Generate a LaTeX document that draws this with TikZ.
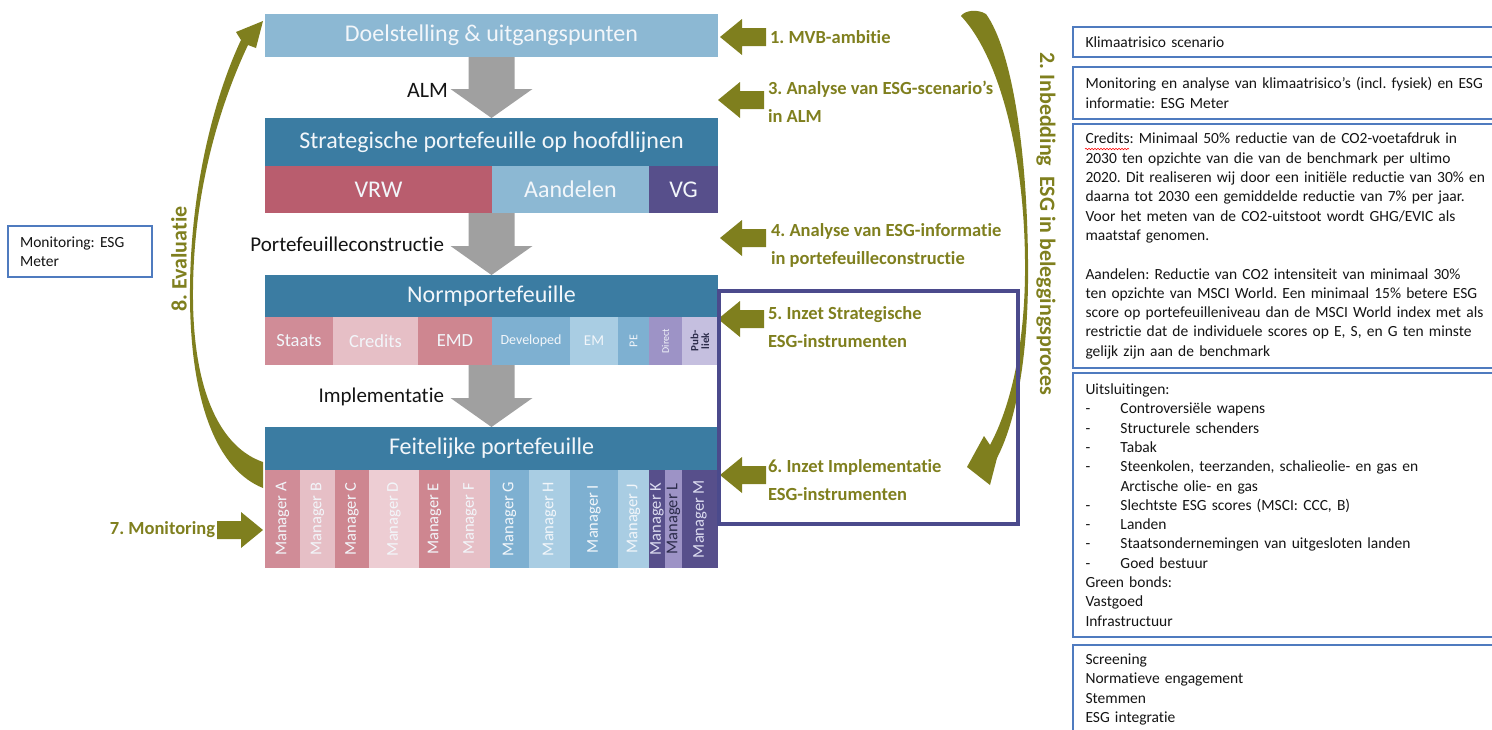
\documentclass[tikz,border=0pt]{standalone}
\usepackage{fontspec}
\setmainfont{Carlito}[Ligatures=NoCommon]
\frenchspacing
\usetikzlibrary{positioning,calc,decorations.pathmorphing}

\definecolor{lichtblauw}{HTML}{8CB8D3}
\definecolor{donkerblauw}{HTML}{3B7CA2}
\definecolor{rood}{HTML}{B95D6E}
\definecolor{paars}{HTML}{574F8B}
\definecolor{roze}{HTML}{D08C97}
\definecolor{roze2}{HTML}{CE8690}
\definecolor{lichtroze}{HTML}{E6BFC6}
\definecolor{lichtroze2}{HTML}{EDCDD3}
\definecolor{blauw}{HTML}{7EB0D1}
\definecolor{ijsblauw}{HTML}{A9CDE3}
\definecolor{lila}{HTML}{9D93C6}
\definecolor{lichtlila}{HTML}{C5BFDF}
\definecolor{olijf}{HTML}{7F7F1E}
\definecolor{grijs}{HTML}{A0A0A0}
\definecolor{kader}{HTML}{4B4A8C}
\definecolor{randblauw}{HTML}{4F7BBF}
\definecolor{wittekst}{HTML}{F2F6FA}
\definecolor{lichttekst}{HTML}{DCDCF0}
\definecolor{donker}{HTML}{2B2B4A}
\definecolor{zwart}{HTML}{141414}

\newcommand{\lettergrootte}[2]{\fontsize{#1}{#2}\selectfont}
% grijze blokpijl tussen twee lagen
\newcommand{\grijzepijl}[2]{%
  \fill[grijs] ($#1+(-23,0)$) -- ($#1+(23,0)$) -- ($#2+(23,-29)$) -- ($#2+(41,-29)$) -- #2
    -- ($#2+(-41,-29)$) -- ($#2+(-23,-29)$) -- cycle;}
% olijfgroene blokpijl, #2 = 1 (naar links) of -1 (naar rechts)
\newcommand{\olijfpijl}[2]{%
  \fill[olijf] #1 -- ++(#2*22,-18) -- ++(0,9) -- ++(#2*24,0) -- ++(0,18) -- ++(#2*-24,0) -- ++(0,9) -- cycle;}

\begin{document}
\begin{tikzpicture}[x=1pt,y=-1pt,
    every node/.style={inner sep=0pt,outer sep=0pt},
    kop/.style={anchor=north west,minimum width=453pt,text=wittekst,font=\lettergrootte{24}{28}},
    cel/.style={anchor=north west,text=wittekst},
    stap/.style={anchor=west,align=left,text=olijf,font=\bfseries\lettergrootte{18.5}{28}},
    fase/.style={anchor=east,text=zwart,font=\lettergrootte{21}{25}},
    tekstvak/.style={draw=randblauw,line width=1.3pt,anchor=north west,minimum width=430pt,
      text width=405pt,align=left,inner xsep=12pt,text=zwart,font=\lettergrootte{15.5}{19.3}}]

\useasboundingbox (0,0) rectangle (1492,729);
\clip (0,0) rectangle (1492,729);

% lagen
\node[kop,fill=lichtblauw,minimum height=43pt] (doel) at (265,14) {Doelstelling \& uitgangspunten};

\node[kop,fill=donkerblauw,minimum height=48pt] (strat) at (265,118) {Strategische portefeuille op hoofdlijnen};
\node[cel,fill=rood,minimum width=227pt,minimum height=47pt,font=\lettergrootte{24}{28}] (vrw) at (strat.south west) {VRW};
\node[cel,fill=lichtblauw,minimum width=157pt,minimum height=47pt,font=\lettergrootte{24}{28},right=0pt of vrw] (aand) {Aandelen};
\node[cel,fill=paars,minimum width=69pt,minimum height=47pt,font=\lettergrootte{24}{28},right=0pt of aand] (vg) {VG};

\node[kop,fill=donkerblauw,minimum height=42pt] (norm) at (265,275) {Normportefeuille};
\node[cel,fill=roze,minimum width=68pt,minimum height=48pt,font=\lettergrootte{18.5}{22}] (staats) at (norm.south west) {Staats};
\node[cel,fill=lichtroze,minimum width=85pt,minimum height=48pt,font=\lettergrootte{18.5}{22},right=0pt of staats] (credits) {Credits};
\node[cel,fill=roze2,minimum width=74pt,minimum height=48pt,font=\lettergrootte{18.5}{22},right=0pt of credits] (emd) {EMD};
\node[cel,fill=blauw,minimum width=78pt,minimum height=48pt,font=\lettergrootte{14}{16},right=0pt of emd] (dev) {Developed};
\node[cel,fill=ijsblauw,minimum width=48pt,minimum height=48pt,font=\lettergrootte{15}{17},right=0pt of dev] (em) {EM};
\node[cel,fill=blauw,minimum width=31pt,minimum height=48pt,font=\lettergrootte{12}{14},right=0pt of em] (pe) {\rotatebox{90}{PE}};
\node[cel,fill=lila,minimum width=33pt,minimum height=48pt,font=\lettergrootte{10}{12},right=0pt of pe] (direct) {\rotatebox{90}{Direct}};
\node[cel,fill=lichtlila,text=donker,minimum width=36pt,minimum height=48pt,font=\bfseries\lettergrootte{11}{11},right=0pt of direct] (publiek) {\rotatebox{90}{\shortstack{Pub-\\liek}}};

\node[kop,fill=donkerblauw,minimum height=43pt] (feit) at (265,427) {Feitelijke portefeuille};
\node[minimum size=0pt,anchor=north east] (mgr0) at (feit.south west) {};
\foreach \m/\br/\kl/\tk [count=\n,remember=\n as \p (initially 0)] in
  {A/35/roze/wittekst,B/35/lichtroze/wittekst,C/34/roze2/wittekst,D/50/lichtroze2/wittekst,
   E/31/roze2/wittekst,F/40/lichtroze/wittekst,G/39/blauw/wittekst,H/41/ijsblauw/wittekst,
   I/48/blauw/wittekst,J/31/ijsblauw/wittekst,K/16/paars/lichttekst,L/17/lila/donker,M/36/paars/lichttekst}
  \node[cel,fill=\kl,text=\tk,minimum width=\br pt,minimum height=98pt,font=\lettergrootte{16.5}{18}] (mgr\n) at (mgr\p.north east) {\rotatebox{90}{Manager \m}};

% grijze pijlen met fasen
\grijzepijl{(doel.south)}{(strat.north)}
\grijzepijl{(strat.south |- vrw.south)}{(norm.north)}
\grijzepijl{(norm.south |- staats.south)}{(feit.north)}
\node[fase,font=\lettergrootte{22}{26}] (alm) at (448,90) {ALM};
\node[fase] (pc) at (444,244) {Portefeuilleconstructie};
\node[fase] (impl) at (444,397) {Implementatie};

% ESG-stappen
\node[stap] (s1) at (770,37) {1. MVB-ambitie};
\node[stap] (s3) at (768,102) {3. Analyse van ESG-scenario’s\\in ALM};
\node[stap] (s4) at (771,245) {4. Analyse van ESG-informatie\\in portefeuilleconstructie};
\node[stap] (s5) at (768,327) {5. Inzet Strategische\\ESG-instrumenten};
\node[stap] (s6) at (768,480) {6. Inzet Implementatie\\ESG-instrumenten};
\node[stap,anchor=east] (s7) at (215,530) {7. Monitoring};
\node[stap,anchor=center,rotate=-90,font=\bfseries\lettergrootte{22}{26}] (s2) at (1046,224) {2. Inbedding\ \ ESG in beleggingsproces};
\node[stap,anchor=center,rotate=90,font=\bfseries\lettergrootte{22}{26}] (s8) at (179,259) {8. Evaluatie};

\olijfpijl{($(doel.east |- s1.west)+(2,0)$)}{1}
\olijfpijl{($(strat.east |- s3.west)+(0,-2)$)}{1}
\olijfpijl{($(strat.east |- s4.west)+(2,-7)$)}{1}
\olijfpijl{($(norm.east |- s5.west)+(0,-8)$)}{1}
\olijfpijl{($(feit.east |- s6.west)+(2,-5)$)}{1}
\olijfpijl{($(mgr1.west |- s7.east)+(-2,0)$)}{-1}

% gebogen pijlen
\fill[olijf] (961,16) .. controls (998,55) and (1024,150) .. (1025,260)
  .. controls (1026,345) and (1010,408) .. (990,445) -- (984,436) -- (967,467) -- (990,485) -- (997,458)
  .. controls (1019,415) and (1029,345) .. (1028,260) .. controls (1027,150) and (1012,50) .. (986,14)
  .. controls (978,9) and (965,10) .. cycle;
\fill[olijf] (263,488) .. controls (218,470) and (191,405) .. (190,300)
  .. controls (189,190) and (215,95) .. (241,40) -- (236,32) -- (263,21) -- (256,48) -- (248,45)
  .. controls (222,100) and (192,190) .. (193,300) .. controls (194,395) and (222,448) .. (263,462) -- cycle;

% kader om stap 5 en 6
\draw[kader,line width=4pt] (719,291) rectangle (1018,524);

% toelichting
\node[draw=randblauw,line width=1.3pt,anchor=north west,minimum width=144pt,minimum height=51pt,
  text width=120pt,align=left,text=zwart,font=\lettergrootte{15.5}{19.3}] (esgmeter) at (8,226) {Monitoring: ESG\\Meter};

\node[tekstvak,minimum height=30pt] (klimaat) at (1073,27) {Klimaatrisico scenario};
\node[tekstvak,minimum height=52pt] (analyse) at (1073,67) {Monitoring en analyse van klimaatrisico’s (incl. fysiek) en ESG\\informatie: ESG Meter};
\node[tekstvak,minimum height=244pt] (doelen) at (1073,124) {Credits: Minimaal 50\% reductie van de CO2-voetafdruk in\\
  2030 ten opzichte van die van de benchmark per ultimo\\
  2020. Dit realiseren wij door een initiële reductie van 30\% en\\
  daarna tot 2030 een gemiddelde reductie van 7\% per jaar.\\
  Voor het meten van de CO2-uitstoot wordt GHG/EVIC als\\
  maatstaf genomen.\\[19.3pt]
  Aandelen: Reductie van CO2 intensiteit van minimaal 30\%\\
  ten opzichte van MSCI World. Een minimaal 15\% betere ESG\\
  score op portefeuilleniveau dan de MSCI World index met als\\
  restrictie dat de individuele scores op E, S, en G ten minste\\
  gelijk zijn aan de benchmark};
\draw[red,line width=0.6pt,decorate,decoration={snake,amplitude=0.7pt,segment length=3pt}] (1085,149) -- (1129,149);
\node[tekstvak,minimum height=264pt] (uitsluit) at (1073,373) {Uitsluitingen:\\
  \makebox[35pt][l]{-}Controversiële wapens\\
  \makebox[35pt][l]{-}Structurele schenders\\
  \makebox[35pt][l]{-}Tabak\\
  \makebox[35pt][l]{-}Steenkolen, teerzanden, schalieolie- en gas en\\
  \hspace*{35pt}Arctische olie- en gas\\
  \makebox[35pt][l]{-}Slechtste ESG scores (MSCI: CCC, B)\\
  \makebox[35pt][l]{-}Landen\\
  \makebox[35pt][l]{-}Staatsondernemingen van uitgesloten landen\\
  \makebox[35pt][l]{-}Goed bestuur\\
  Green bonds:\\
  Vastgoed\\
  Infrastructuur};
\node[tekstvak,minimum height=89pt] (instrument) at (1073,645) {Screening\\Normatieve engagement\\Stemmen\\ESG integratie};

\end{tikzpicture}
\end{document}
